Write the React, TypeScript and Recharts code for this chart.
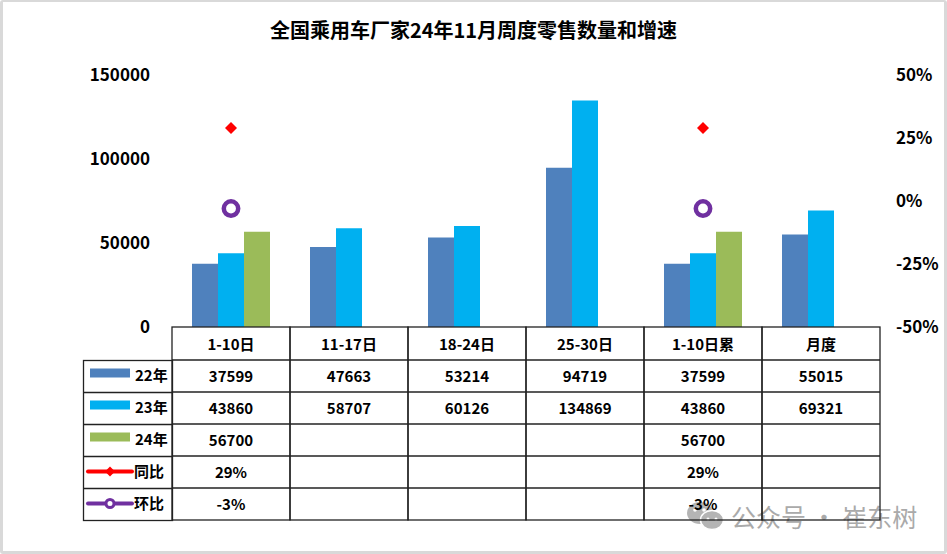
import React from 'react';
import { ComposedChart, Bar, Line, XAxis, YAxis, Legend } from 'recharts';

const categories = ['1-10日', '11-17日', '18-24日', '25-30日', '1-10日累', '月度'];
const sales22 = [37599, 47663, 53214, 94719, 37599, 55015];
const sales23 = [43860, 58707, 60126, 134869, 43860, 69321];
const sales24: (number | null)[] = [56700, null, null, null, 56700, null];
const yoy: (number | null)[] = [0.29, null, null, null, 0.29, null];
const mom: (number | null)[] = [-0.03, null, null, null, -0.03, null];
const leftTicks = [0, 50000, 100000, 150000];
const rightTicks = [-0.5, -0.25, 0, 0.25, 0.5];

const data = categories.map((cat, i) => ({
  cat,
  s22: sales22[i],
  s23: sales23[i],
  s24: sales24[i],
  yoy: yoy[i],
  mom: mom[i],
}));

const FONT = '"Noto Sans CJK SC", "Noto Sans", sans-serif';
const COL_W = 118;
const HEAD_H = 33;
const ROW_H = 32;
const rowKeys = ['s22', 's23', 's24', 'yoy', 'mom'];
const C22 = '#4F81BD';
const C23 = '#00B0F0';
const C24 = '#9BBB59';
const CYOY = '#FF0000';
const CMOM = '#7030A0';
const LINE = '#222';

function fmt(key: string, v: any) {
  if (v == null) return '';
  if (key === 'yoy' || key === 'mom') return Math.round(v * 100) + '%';
  return String(v);
}

const TableTick = (props: any) => {
  const { x, y, payload } = props;
  const i = payload.index;
  const row: any = data[i];
  const left = x - COL_W / 2;
  const total = HEAD_H + ROW_H * 5;
  return (
    <g>
      <rect x={left} y={y} width={COL_W} height={total} fill="none" stroke={LINE} strokeWidth={1.3} />
      {[0, 1, 2, 3, 4].map((r) => (
        <line key={r} x1={left} x2={left + COL_W} y1={y + HEAD_H + ROW_H * r} y2={y + HEAD_H + ROW_H * r} stroke={LINE} strokeWidth={1.3} />
      ))}
      <text x={x} y={y + HEAD_H / 2} textAnchor="middle" dominantBaseline="central" fontSize={15} fontWeight="bold" fill="#000" fontFamily={FONT}>
        {payload.value}
      </text>
      {rowKeys.map((k, r) => (
        <text key={k} x={x} y={y + HEAD_H + ROW_H * r + ROW_H / 2 - 1} textAnchor="middle" dominantBaseline="central" fontSize={15} fontWeight="bold" fill="#000" fontFamily={FONT}>
          {fmt(k, row[k])}
        </text>
      ))}
    </g>
  );
};

const DiamondDot = (props: any) => {
  const { cx, cy, value } = props;
  if (value == null || cx == null || cy == null) return <g />;
  const s = 6;
  return <polygon points={`${cx},${cy - s} ${cx + s},${cy} ${cx},${cy + s} ${cx - s},${cy}`} fill={CYOY} />;
};

const RingDot = (props: any) => {
  const { cx, cy, value } = props;
  if (value == null || cx == null || cy == null) return <g />;
  return <circle cx={cx} cy={cy} r={7.2} fill="#fff" stroke={CMOM} strokeWidth={4.5} />;
};

const LegendTable = (props: any) => {
  const payload: any[] = props.payload || [];
  const items = rowKeys.map((k) => payload.find((p) => p.dataKey === k)).filter(Boolean);
  return (
    <svg width={91} height={ROW_H * 5 + 2} style={{ display: 'block', overflow: 'visible' }}>
      <rect x={0.5} y={0.5} width={89} height={ROW_H * 5} fill="none" stroke={LINE} strokeWidth={1.3} />
      {[1, 2, 3, 4].map((r) => (
        <line key={r} x1={0.5} x2={89.5} y1={0.5 + ROW_H * r} y2={0.5 + ROW_H * r} stroke={LINE} strokeWidth={1.3} />
      ))}
      {items.map((entry: any, r: number) => {
        const top = 0.5 + ROW_H * r;
        const cy = top + ROW_H / 2;
        const isLine = entry.dataKey === 'yoy' || entry.dataKey === 'mom';
        return (
          <g key={entry.dataKey}>
            {isLine ? (
              <g>
                <line x1={5} x2={49} y1={cy - 1} y2={cy - 1} stroke={entry.color} strokeWidth={4} strokeLinecap="round" />
                {entry.dataKey === 'yoy' ? (
                  <polygon points={`27,${cy - 6} 32,${cy - 1} 27,${cy + 4} 22,${cy - 1}`} fill={entry.color} />
                ) : (
                  <circle cx={27} cy={cy - 1} r={4} fill="#fff" stroke={entry.color} strokeWidth={3} />
                )}
              </g>
            ) : (
              <rect x={7} y={top + 8} width={40} height={9} fill={entry.color} />
            )}
            <text x={isLine ? 51 : 52} y={cy - 2} dominantBaseline="central" fontSize={15} fontWeight="bold" fill="#000" fontFamily={FONT}>
              {entry.value}
            </text>
          </g>
        );
      })}
    </svg>
  );
};

export default function App() {
  return (
    <div style={{ position: 'relative', width: 947, height: 554, background: '#fff', fontFamily: FONT, overflow: 'hidden' }}>
      <style>{'body{margin:0;}'}</style>
      <div style={{ position: 'absolute', left: 686, top: 501, width: 240, height: 30, pointerEvents: 'none' }}>
        <svg width={40} height={30} style={{ position: 'absolute', left: 0, top: 0 }}>
          <ellipse cx={14} cy={12} rx={13} ry={11} fill="#b4b4b4" />
          <ellipse cx={26} cy={19} rx={11.5} ry={9.5} fill="#b4b4b4" stroke="#fff" strokeWidth={1.5} />
          <circle cx={9} cy={9} r={1.8} fill="#fff" />
          <circle cx={18} cy={9} r={1.8} fill="#fff" />
          <circle cx={22} cy={18} r={1.5} fill="#fff" />
          <circle cx={30} cy={18} r={1.5} fill="#fff" />
        </svg>
        <div style={{ position: 'absolute', left: 45, top: 0, fontSize: 25, lineHeight: '30px', color: '#aaaaaa', whiteSpace: 'nowrap' }}>
          公众号 · 崔东树
        </div>
      </div>
      <ComposedChart
        width={947}
        height={554}
        data={data}
        margin={{ top: 75, right: 0, bottom: 0, left: 0 }}
        barCategoryGap={20}
        barGap={0}
      >
        <XAxis
          dataKey="cat"
          height={227}
          axisLine={false}
          tickLine={false}
          tickSize={0}
          tickMargin={0}
          interval={0}
          tick={<TableTick />}
        />
        <YAxis
          yAxisId="left"
          orientation="left"
          width={172}
          domain={[0, 150000]}
          ticks={leftTicks}
          interval={0}
          axisLine={false}
          tickLine={false}
          tickSize={0}
          tickMargin={22}
          tick={{ fontSize: 17, fontWeight: 'bold', fill: '#000', fontFamily: FONT }}
        />
        <YAxis
          yAxisId="right"
          orientation="right"
          width={67}
          domain={[-0.5, 0.5]}
          ticks={rightTicks}
          interval={0}
          axisLine={false}
          tickLine={false}
          tickSize={0}
          tickMargin={16}
          tickFormatter={(v: number) => Math.round(v * 100) + '%'}
          tick={{ fontSize: 17, fontWeight: 'bold', fill: '#000', fontFamily: FONT }}
        />
        <Bar yAxisId="left" dataKey="s22" name="22年" fill={C22} isAnimationActive={false} legendType="rect" />
        <Bar yAxisId="left" dataKey="s23" name="23年" fill={C23} isAnimationActive={false} legendType="rect" />
        <Bar yAxisId="left" dataKey="s24" name="24年" fill={C24} isAnimationActive={false} legendType="rect" />
        <Line yAxisId="right" dataKey="yoy" name="同比" stroke={CYOY} strokeWidth={3} dot={<DiamondDot />} activeDot={false} connectNulls={false} isAnimationActive={false} legendType="line" />
        <Line yAxisId="right" dataKey="mom" name="环比" stroke={CMOM} strokeWidth={3} dot={<RingDot />} activeDot={false} connectNulls={false} isAnimationActive={false} legendType="line" />
        <Legend
          layout="vertical"
          align="center"
          verticalAlign="middle"
          content={<LegendTable />}
          wrapperStyle={{ left: 83, top: 359.5, width: 91, height: ROW_H * 5 + 2, margin: 0, padding: 0 }}
        />
      </ComposedChart>
      <div style={{ position: 'absolute', top: 15, left: 0, width: 947, textAlign: 'center', fontSize: 20, fontWeight: 'bold', color: '#000', lineHeight: '30px' }}>
        全国乘用车厂家24年11月周度零售数量和增速
      </div>
      <div style={{ position: 'absolute', left: 0, top: 0, width: 947, height: 554, boxSizing: 'border-box', border: '3px solid #d9d9d9', borderTopWidth: 2, borderRadius: 3, pointerEvents: 'none' }} />
    </div>
  );
}
